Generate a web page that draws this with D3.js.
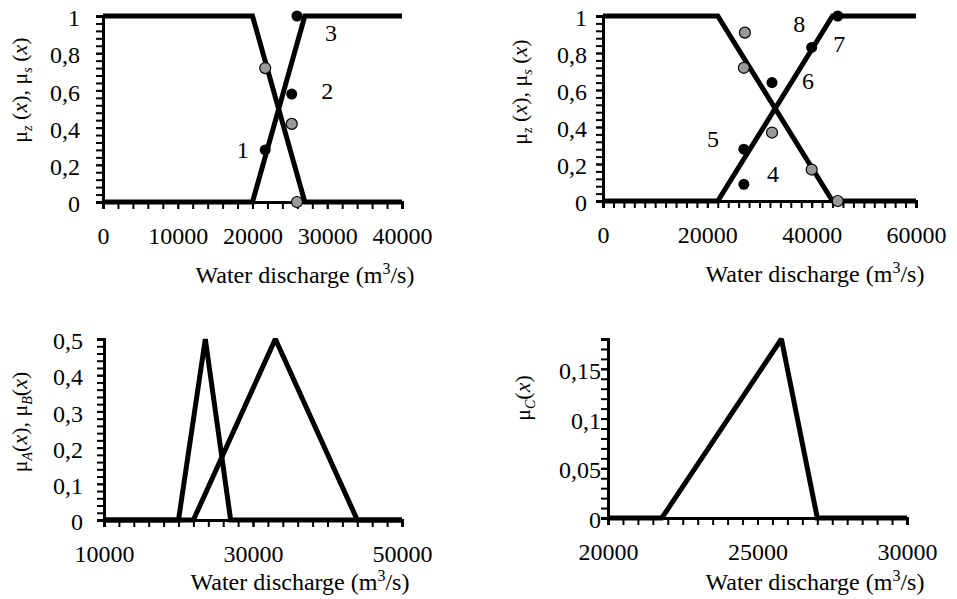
<!DOCTYPE html>
<html>
<head>
<meta charset="utf-8">
<script src="https://cdn.jsdelivr.net/npm/d3@7"></script>
<style>
  svg text, svg tspan { font-family: "Liberation Serif", serif !important; }
  svg .tick line { stroke: #000 !important; stroke-width: 2px !important; visibility: visible !important; }
</style>
</head>
<body style="margin:0">
<script>
// ---- data ----
// panel 1 (top left)
var x1Break = [0, 20000, 27000, 40000];
var muZ1 = [1, 1, 0, 0];
var muS1 = [0, 0, 1, 1];
var black1 = [[21700, 0.28], [25250, 0.58], [25950, 1.0]];
var grey1 = [[21700, 0.72], [25250, 0.42], [25950, 0]];
var labels1 = [["1", 18700, 0.28], ["2", 30000, 0.60], ["3", 30500, 0.91]];

// panel 2 (top right)
var x2Break = [0, 22000, 44000, 60000];
var muZ2 = [1, 1, 0, 0];
var muS2 = [0, 0, 1, 1];
var black2 = [[27000, 0.28], [27000, 0.09], [32400, 0.64], [40000, 0.83], [45000, 1.0]];
var grey2 = [[27200, 0.91], [27000, 0.72], [32400, 0.37], [40000, 0.17], [45000, 0]];
var labels2 = [["8", 37600, 0.96], ["7", 45300, 0.85], ["6", 39300, 0.65], ["5", 21100, 0.34], ["4", 32600, 0.15]];

// panel 3 (bottom left)
var xA = [10000, 20000, 23600, 27000, 50000];
var muA = [0, 0, 0.5, 0, 0];
var xB = [10000, 22000, 33000, 44000, 50000];
var muB = [0, 0, 0.5, 0, 0];

// panel 4 (bottom right)
var xC = [20000, 21800, 25800, 27000, 30000];
var muC = [0, 0, 0.18, 0, 0];

// tick labels
var xTicks1 = [0, 10000, 20000, 30000, 40000];
var xTicks2 = [0, 20000, 40000, 60000];
var xTicks3 = [10000, 30000, 50000];
var xTicks4 = [20000, 25000, 30000];
var yTicks12 = [0, 0.2, 0.4, 0.6, 0.8, 1];
var yTicks3 = [0, 0.1, 0.2, 0.3, 0.4, 0.5];
var yTicks4 = [0, 0.05, 0.1, 0.15];

var font = "Liberation Serif";

var svg = d3.select("body").append("svg")
  .attr("width", 957)
  .attr("height", 599)
  .attr("font-family", font);

function steps(a, b, s) {
  // minor tick positions
  var out = [];
  for (var v = a; v <= b + s / 1000; v += s) out.push(+v.toFixed(6));
  return out;
}

function comma(d) { return String(d).replace(".", ","); }

function setFont(sel, size) {
  sel.attr("font-family", font).attr("font-size", size)
    .style("font-family", font, "important")
    .style("font-size", size + "px", "important");
}

function richText(sel, parts, size) {
  parts.forEach(p => {
    var t = sel.append("tspan").text(p.t);
    setFont(t, (p.sub || p.sup) ? Math.round(size * 0.65) : size);
    if (p.it) t.attr("font-style", "italic").style("font-style", "italic");
    if (p.sub) t.attr("dy", 5);
    if (p.sup) t.attr("dy", -9);
    if (p.back) t.attr("dy", p.back);
  });
}

function styleAxis(a) {
  a.select(".domain").attr("stroke", "#000").attr("stroke-width", 3);
  a.selectAll(".tick line").attr("stroke", "#000").attr("stroke-width", 2)
    .style("stroke", "#000", "important").style("stroke-width", "2px", "important");
  setFont(a.selectAll(".tick text").attr("fill", "#000"), 24);
}

function panel(c) {
  var g = svg.append("g");
  var x = d3.scaleLinear().domain(c.xDomain).range([c.left, c.right]);
  var y = d3.scaleLinear().domain(c.yDomain).range([c.bottom, c.top]);

  // membership lines
  var line = d3.line().x(d => x(d[0])).y(d => y(d[1]));
  c.series.forEach(s => {
    g.append("path")
      .datum(s[0].map((v, i) => [v, s[1][i]]))
      .attr("d", line)
      .attr("fill", "none")
      .attr("stroke", "#000")
      .attr("stroke-width", 5)
      .attr("stroke-linejoin", "miter")
      .attr("stroke-miterlimit", 2);
  });

  // minor ticks
  styleAxis(g.append("g")
    .attr("transform", "translate(0," + c.bottom + ")")
    .call(d3.axisBottom(x).tickValues(steps(c.xDomain[0], c.xDomain[1], c.xMinor)).tickSize(7).tickFormat(() => "")));
  styleAxis(g.append("g")
    .attr("transform", "translate(" + c.left + ",0)")
    .call(d3.axisLeft(y).tickValues(steps(c.yDomain[0], c.yDomain[1], c.yMinor)).tickSize(7).tickFormat(() => "")));

  // labelled ticks
  styleAxis(g.append("g")
    .attr("transform", "translate(0," + c.bottom + ")")
    .call(d3.axisBottom(x).tickValues(c.xTicks).tickSize(7).tickPadding(18).tickFormat(d3.format("d"))));
  var ya = g.append("g")
    .attr("transform", "translate(" + c.left + ",0)")
    .call(d3.axisLeft(y).tickValues(c.yTicks).tickSize(7).tickPadding(c.yPad).tickFormat(comma));
  styleAxis(ya);
  ya.selectAll(".tick text").attr("dy", "0.4em");

  // points
  (c.grey || []).forEach(p => {
    g.append("circle").attr("cx", x(p[0])).attr("cy", y(p[1])).attr("r", 5.5)
      .attr("fill", "#999").attr("stroke", "#000").attr("stroke-width", 1.2);
  });
  (c.black || []).forEach(p => {
    g.append("circle").attr("cx", x(p[0])).attr("cy", y(p[1])).attr("r", 5.5)
      .attr("fill", "#000");
  });
  (c.labels || []).forEach(l => {
    setFont(g.append("text").attr("x", x(l[1])).attr("y", y(l[2]))
      .attr("text-anchor", "middle").attr("dy", "0.35em").text(l[0]), 24);
  });

  // axis titles
  var xt = g.append("text")
    .attr("x", c.xTitle[0]).attr("y", c.xTitle[1])
    .attr("text-anchor", "middle");
  setFont(xt, 24);
  richText(xt, [{t: "Water discharge (m"}, {t: "3", sup: true}, {t: "/s)", back: 9}], 24);

  var yt = g.append("text")
    .attr("transform", "translate(" + c.yTitle[0] + "," + c.yTitle[1] + ") rotate(-90)")
    .attr("text-anchor", "middle");
  setFont(yt, 22);
  richText(yt, c.yTitleParts, 22);
}

panel({
  left: 103, right: 402, bottom: 202, top: 16,
  xDomain: [0, 40000], yDomain: [0, 1],
  xMinor: 2000, yMinor: 0.04, xTicks: xTicks1, yTicks: yTicks12, yPad: 16,
  series: [[x1Break, muZ1], [x1Break, muS1]],
  black: black1, grey: grey1, labels: labels1,
  xTitle: [305, 283], yTitle: [27, 90],
  yTitleParts: [{t: "μ"}, {t: "z", it: true, sub: true}, {t: " (", back: -5}, {t: "x", it: true}, {t: "), μ"},
    {t: "s", it: true, sub: true}, {t: " (", back: -5}, {t: "x", it: true}, {t: ")"}]
});

panel({
  left: 603, right: 916, bottom: 201, top: 16,
  xDomain: [0, 60000], yDomain: [0, 1],
  xMinor: 2000, yMinor: 0.04, xTicks: xTicks2, yTicks: yTicks12, yPad: 9,
  series: [[x2Break, muZ2], [x2Break, muS2]],
  black: black2, grey: grey2, labels: labels2,
  xTitle: [815, 282], yTitle: [527, 92],
  yTitleParts: [{t: "μ"}, {t: "z", it: true, sub: true}, {t: " (", back: -5}, {t: "x", it: true}, {t: "), μ"},
    {t: "s", it: true, sub: true}, {t: " (", back: -5}, {t: "x", it: true}, {t: ")"}]
});

panel({
  left: 104, right: 402, bottom: 520, top: 339,
  xDomain: [10000, 50000], yDomain: [0, 0.5],
  xMinor: 2000, yMinor: 0.02, xTicks: xTicks3, yTicks: yTicks3, yPad: 14,
  series: [[xA, muA], [xB, muB]],
  xTitle: [300, 590], yTitle: [27, 422],
  yTitleParts: [{t: "μ"}, {t: "A", it: true, sub: true}, {t: "(", back: -5}, {t: "x", it: true}, {t: "), μ"},
    {t: "B", it: true, sub: true}, {t: "(", back: -5}, {t: "x", it: true}, {t: ")"}]
});

panel({
  left: 608, right: 907, bottom: 518, top: 339,
  xDomain: [20000, 30000], yDomain: [0, 0.18],
  xMinor: 500, yMinor: 0.01, xTicks: xTicks4, yTicks: yTicks4, yPad: 0,
  series: [[xC, muC]],
  xTitle: [815, 590], yTitle: [530, 398],
  yTitleParts: [{t: "μ"}, {t: "C", it: true, sub: true}, {t: "(", back: -5}, {t: "x", it: true}, {t: ")"}]
});
</script>
</body>
</html>
